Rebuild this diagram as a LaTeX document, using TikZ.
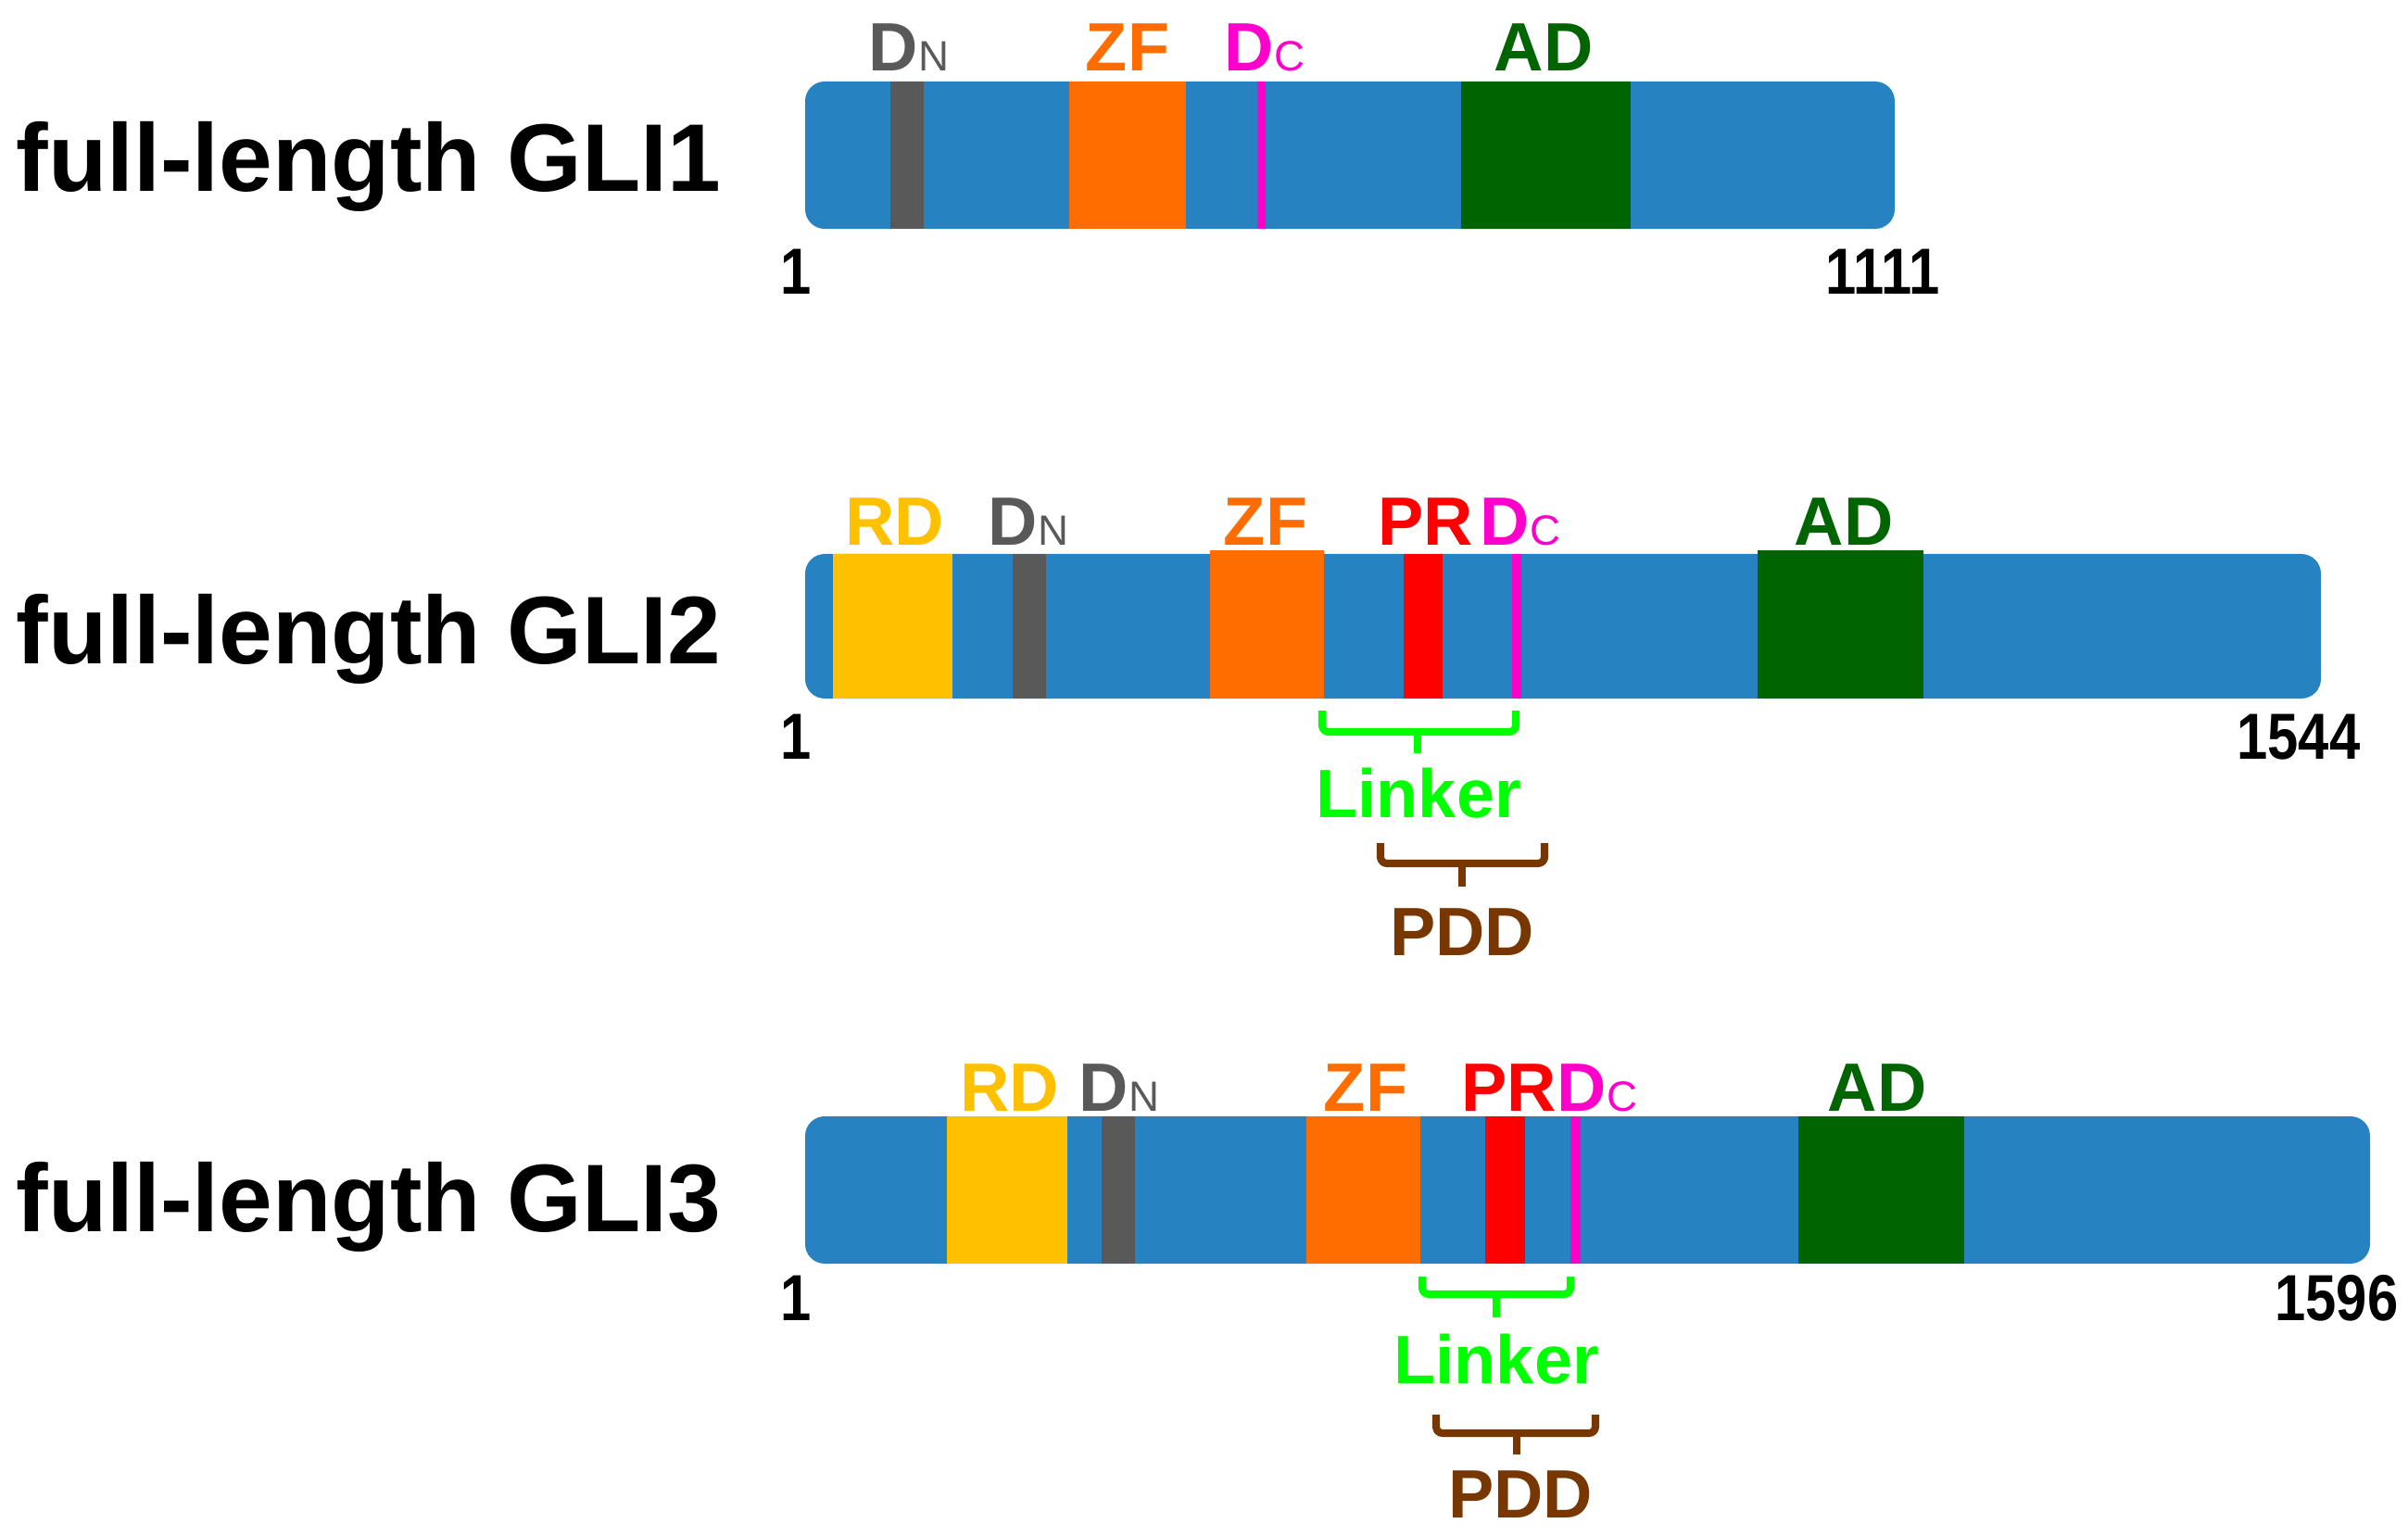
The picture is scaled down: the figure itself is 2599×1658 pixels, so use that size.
\documentclass[tikz,border=0pt]{standalone}
\usepackage{fontspec}
\setmainfont{Liberation Sans}
\newfontfamily\numfont[FakeStretch=0.85]{Liberation Sans}
\definecolor{barblue}{RGB}{38,130,192}
\definecolor{dngray}{RGB}{89,89,89}
\definecolor{zforange}{RGB}{255,109,0}
\definecolor{dcpink}{RGB}{255,0,204}
\definecolor{adgreen}{RGB}{0,100,0}
\definecolor{rdyellow}{RGB}{255,192,0}
\definecolor{prred}{RGB}{255,0,0}
\definecolor{lkgreen}{RGB}{0,255,0}
\definecolor{pddbrown}{RGB}{120,54,0}
\newcommand{\subl}[1]{{\fontsize{13}{13}\selectfont\mdseries #1}}
\begin{document}
\begin{tikzpicture}[x=0.01cm,y=-0.01cm,
    title/.style={anchor=base west,inner sep=0pt,font=\fontsize{29.5}{30}\selectfont\bfseries},
    dom/.style={anchor=base,inner sep=0pt,font=\fontsize{21}{21}\selectfont\bfseries},
    num/.style={inner sep=0pt,font=\numfont\fontsize{20}{20}\selectfont\bfseries},
    bar/.style={barblue,rounded corners=6pt},
    brace/.style={line width=2.3pt,rounded corners=2pt}]
  \useasboundingbox (0,0) rectangle (2599,1658);

  \node[title] (t1) at (17,207) {full-length GLI1};
  \node[title] (t2) at (17,716) {full-length GLI2};
  \node[title] (t3) at (17,1329) {full-length GLI3};

  \fill[bar] (869,88) rectangle (2045,247);
  \fill[dngray] (961,88) rectangle (997,247);
  \fill[zforange] (1154,88) rectangle (1280,247);
  \fill[dcpink] (1357,88) rectangle (1366,247);
  \fill[adgreen] (1577,88) rectangle (1760,247);
  \draw
    (937,77) node[dom,anchor=base west,dngray] (dn1) {D\subl{N}}
    (1217,77) node[dom,zforange] (zf1) {ZF}
    (1321,77) node[dom,anchor=base west,dcpink] (dc1) {D\subl{C}}
    (1666,77) node[dom,adgreen] (ad1) {AD};
  \node[num,anchor=base] (s1) at (859,318) {1};
  \node[num,anchor=base east] (e1) at (2094,318) {1111};

  \fill[bar] (869,598) rectangle (2505,754);
  \fill[rdyellow] (899,598) rectangle (1028,754);
  \fill[dngray] (1093,598) rectangle (1129,754);
  \fill[zforange] (1306,594) rectangle (1429,754);
  \fill[prred] (1515,598) rectangle (1557,754);
  \fill[dcpink] (1632,598) rectangle (1642,754);
  \fill[adgreen] (1897,594) rectangle (2076,754);
  \draw
    (966,589) node[dom,rdyellow] (rd2) {RD}
    (1066,589) node[dom,anchor=base west,dngray] (dn2) {D\subl{N}}
    (1366,589) node[dom,zforange] (zf2) {ZF}
    (1487,589) node[dom,anchor=base west,prred] (pr2) {PR}
    (1597,589) node[dom,anchor=base west,dcpink] (dc2) {D\subl{C}}
    (1990,589) node[dom,adgreen] (ad2) {AD};
  \node[num,anchor=base] (s2) at (859,820) {1};
  \node[num,anchor=base east] (e2) at (2548,820) {1544};

  \coordinate (lk2l) at (1427,767);
  \coordinate (lk2r) at (1636,767);
  \coordinate (lk2m) at (1530,790);
  \coordinate (lk2t) at (1530,813);
  \node[dom,lkgreen] (lk2) at (1531,883) {Linker};
  \coordinate (pd2l) at (1490,910);
  \coordinate (pd2r) at (1667,910);
  \coordinate (pd2m) at (1578,932);
  \coordinate (pd2t) at (1578,957);
  \node[dom,pddbrown] (pd2) at (1578,1031) {PDD};
  \begin{scope}[brace]
    \draw[lkgreen] (lk2l) |- (lk2m) -| (lk2r);
    \draw[lkgreen,sharp corners] (lk2m) -- (lk2t);
    \draw[pddbrown] (pd2l) |- (pd2m) -| (pd2r);
    \draw[pddbrown,sharp corners] (pd2m) -- (pd2t);
  \end{scope}

  \fill[bar] (869,1205) rectangle (2558,1364);
  \fill[rdyellow] (1022,1205) rectangle (1152,1364);
  \fill[dngray] (1189,1205) rectangle (1225,1364);
  \fill[zforange] (1410,1205) rectangle (1533,1364);
  \fill[prred] (1603,1205) rectangle (1646,1364);
  \fill[dcpink] (1695,1205) rectangle (1706,1364);
  \fill[adgreen] (1941,1205) rectangle (2120,1364);
  \draw
    (1090,1199) node[dom,rdyellow] (rd3) {RD}
    (1164,1199) node[dom,anchor=base west,dngray] (dn3) {D\subl{N}}
    (1474,1199) node[dom,zforange] (zf3) {ZF}
    (1577,1199) node[dom,anchor=base west,prred] (pr3) {PR}
    (1680,1199) node[dom,anchor=base west,dcpink] (dc3) {D\subl{C}}
    (2026,1199) node[dom,adgreen] (ad3) {AD};
  \node[num,anchor=base] (s3) at (859,1425) {1};
  \node[num,anchor=base east] (e3) at (2589,1425) {1596};

  \coordinate (lk3l) at (1535,1378);
  \coordinate (lk3r) at (1695,1378);
  \coordinate (lk3m) at (1615,1397);
  \coordinate (lk3t) at (1615,1422);
  \node[dom,lkgreen] (lk3) at (1615,1493) {Linker};
  \coordinate (pd3l) at (1550,1527);
  \coordinate (pd3r) at (1722,1527);
  \coordinate (pd3m) at (1637,1547);
  \coordinate (pd3t) at (1637,1570);
  \node[dom,pddbrown] (pd3) at (1641,1638) {PDD};
  \begin{scope}[brace]
    \draw[lkgreen] (lk3l) |- (lk3m) -| (lk3r);
    \draw[lkgreen,sharp corners] (lk3m) -- (lk3t);
    \draw[pddbrown] (pd3l) |- (pd3m) -| (pd3r);
    \draw[pddbrown,sharp corners] (pd3m) -- (pd3t);
  \end{scope}
\end{tikzpicture}
\end{document}
